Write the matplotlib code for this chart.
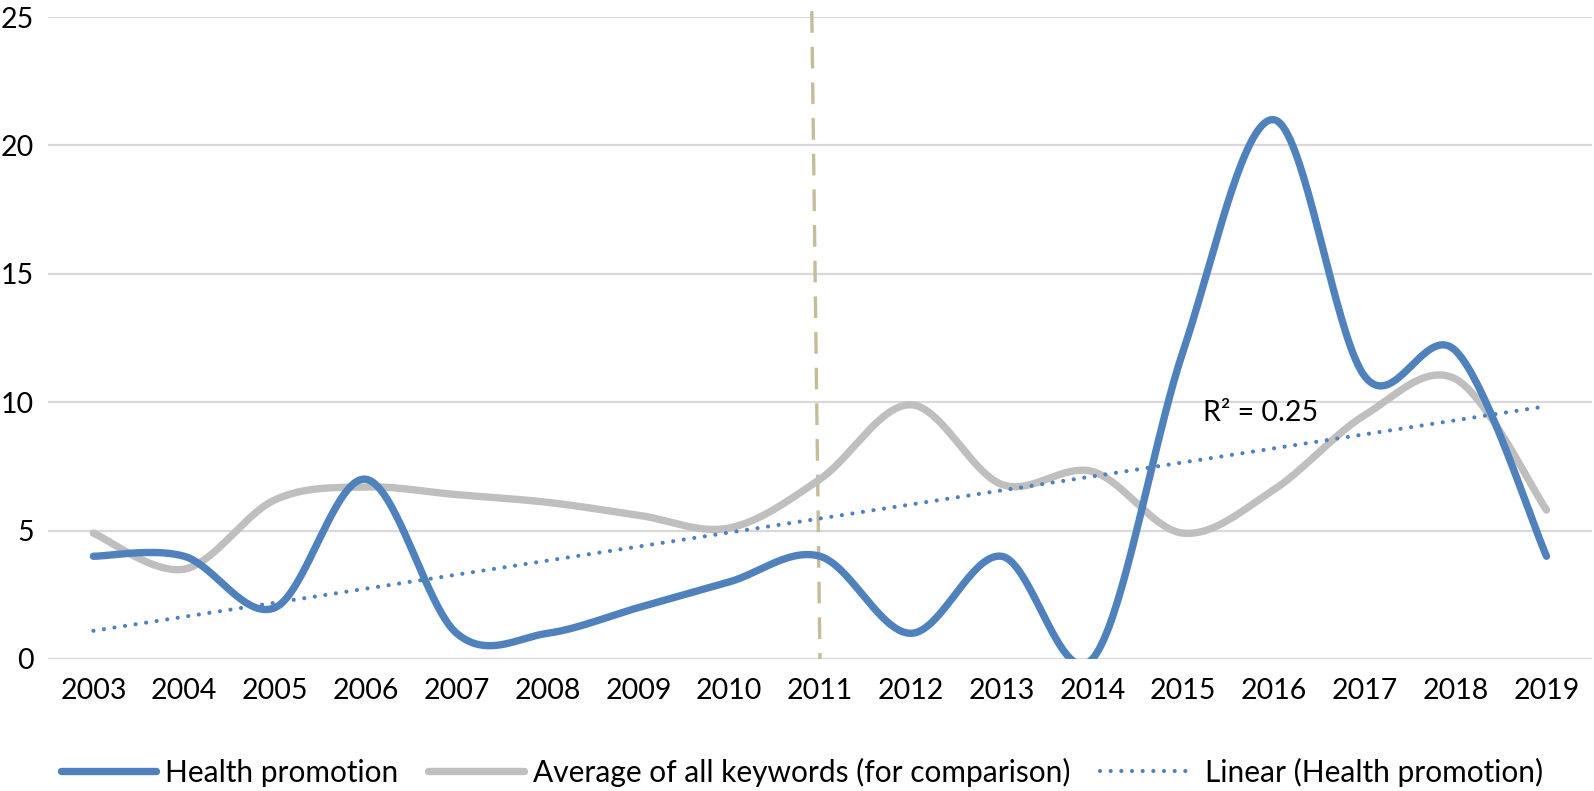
import numpy as np
import matplotlib.pyplot as plt
from matplotlib.lines import Line2D

plt.rcParams['font.family'] = ['Lato', 'DejaVu Sans']

years = list(range(2003, 2020))
health = [4, 4, 2, 7, 1, 1, 2, 3, 4, 1, 4, 0, 12, 21, 11, 12, 4]
average = [4.9, 3.5, 6.2, 6.7, 6.4, 6.1, 5.6, 5.1, 7.0, 9.9, 6.8, 7.3, 4.9, 6.6, 9.5, 10.9, 5.8]
r2_label = 'R² = 0.25'
marker_year = 2011


def smooth(x, y, n=40):
    # Excel-style smoothed line (Catmull-Rom / Bezier with 1/6 control points)
    x = np.asarray(x, float)
    y = np.asarray(y, float)
    px = np.concatenate([[x[0]], x, [x[-1]]])
    py = np.concatenate([[y[0]], y, [y[-1]]])
    xs, ys = [], []
    t = np.linspace(0, 1, n)
    for i in range(1, len(px) - 2):
        p0 = np.array([px[i], py[i]])
        p3 = np.array([px[i + 1], py[i + 1]])
        c1 = p0 + (np.array([px[i + 1], py[i + 1]]) - np.array([px[i - 1], py[i - 1]])) / 6
        c2 = p3 - (np.array([px[i + 2], py[i + 2]]) - np.array([px[i], py[i]])) / 6
        b = ((1 - t) ** 3)[:, None] * p0 + (3 * (1 - t) ** 2 * t)[:, None] * c1 \
            + (3 * (1 - t) * t ** 2)[:, None] * c2 + (t ** 3)[:, None] * p3
        xs.extend(b[:, 0])
        ys.extend(b[:, 1])
    return np.array(xs), np.array(ys)


blue = '#4F81BD'
gray = '#BFBFBF'
tan = '#C4BD97'

fig = plt.figure(figsize=(15.94, 7.91), dpi=100)
ax = fig.add_axes([0.0301, 0.1669, 0.9686, 0.8116])

ax.set_xlim(2002.5, 2019.5)
ax.set_ylim(0, 25)
ax.set_yticks(range(0, 26, 5))
ax.set_xticks(years)
ax.grid(axis='y', color='#D9D9D9', linewidth=1.6)
ax.set_axisbelow(True)
for s in ax.spines.values():
    s.set_visible(False)
ax.tick_params(length=0, labelsize=20.5, colors='black')
ax.tick_params(axis='x', pad=14)
ax.tick_params(axis='y', pad=10)

hx, hy = smooth(years, health)
gx, gy = smooth(years, average)
ax.plot(gx, gy, color=gray, lw=5.3, solid_capstyle='round', zorder=3)
ax.plot(hx, hy, color=blue, lw=5.3, solid_capstyle='round', zorder=4)

k, b0 = np.polyfit(years, health, 1)
yr = np.array([years[0], years[-1]])
ax.plot(yr, k * yr + b0, color=blue, lw=3, linestyle=(0, (0.01, 2.55)),
        dash_capstyle='round', zorder=5)

ax.plot([marker_year - 0.09, marker_year], [25.23, 0], color=tan, lw=2.4,
        linestyle=(0, (6.5, 4.2)), zorder=2, clip_on=False)

ax.text(2015.22, 9.58, r2_label, fontsize=20.5, va='center', ha='left', zorder=6)

handles = [
    Line2D([], [], color=blue, lw=5.3, solid_capstyle='round'),
    Line2D([], [], color=gray, lw=5.3, solid_capstyle='round'),
    Line2D([], [], color=blue, lw=3, linestyle=(0, (0.01, 2.55)), dash_capstyle='round'),
]
labels = ['Health promotion', 'Average of all keywords (for comparison)', 'Linear (Health promotion)']
fig.legend(handles, labels, loc='center', bbox_to_anchor=(0.503, 0.024), ncol=3, frameon=False,
           fontsize=21.5, handlelength=3.2, handletextpad=0.3, columnspacing=1.0)

fig.savefig('out.png', dpi=100)
